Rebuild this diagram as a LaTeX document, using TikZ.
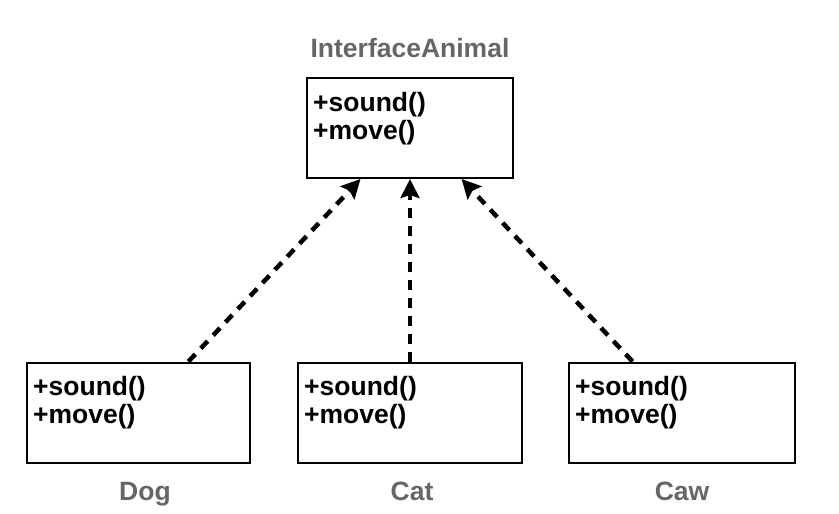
\documentclass[tikz,border=0pt]{standalone}
\usepackage{fontspec}
\setmainfont{Liberation Sans}
\usetikzlibrary{arrows.meta,calc}
\definecolor{labelgray}{HTML}{666666}
\begin{document}
\begin{tikzpicture}[x=1pt,y=-1pt,
  box/.style={draw=black, line width=2pt, minimum width=#1, minimum height=100pt, inner sep=0pt},
  member/.style={anchor=base west, inner sep=0pt, font=\fontsize{26.5}{28}\selectfont\bfseries, text=black},
  title/.style={anchor=base, inner sep=0pt, font=\fontsize{26.5}{28}\selectfont\bfseries, text=labelgray},
  dep/.style={line width=4.5pt, dash pattern=on 10pt off 8pt, -{Stealth[length=19pt,width=19pt,inset=3pt]}}
]
\useasboundingbox (0,0) rectangle (839,514);

\node[box=206pt] (iface) at (410,128) {};
\node[box=223pt] (dog) at (138.5,412.5) {};
\node[box=224pt] (cat) at (410,412.5) {};
\node[box=226pt] (caw) at (682,412.5) {};

\node[title] (ifacet) at (410,57) {InterfaceAnimal};
\node[title] (dogt) at (145,500) {Dog};
\node[title] (catt) at (412,500) {Cat};
\node[title] (cawt) at (682,500) {Caw};

\foreach \b in {iface,dog,cat,caw}{
  \node[member] (\b s) at ($(\b.north west)+(7,34)$) {+sound()};
  \node[member] (\b m) at ($(\b.north west)+(7,62)$) {+move()};
}

\draw[dep] ($(dog.north west)!0.722!(dog.north east)$) -- ($(iface.south west)!0.262!(iface.south east)$);
\draw[dep] (cat.north) -- (iface.south);
\draw[dep] ($(caw.north west)!0.283!(caw.north east)$) -- ($(iface.south west)!0.748!(iface.south east)$);
\end{tikzpicture}
\end{document}
